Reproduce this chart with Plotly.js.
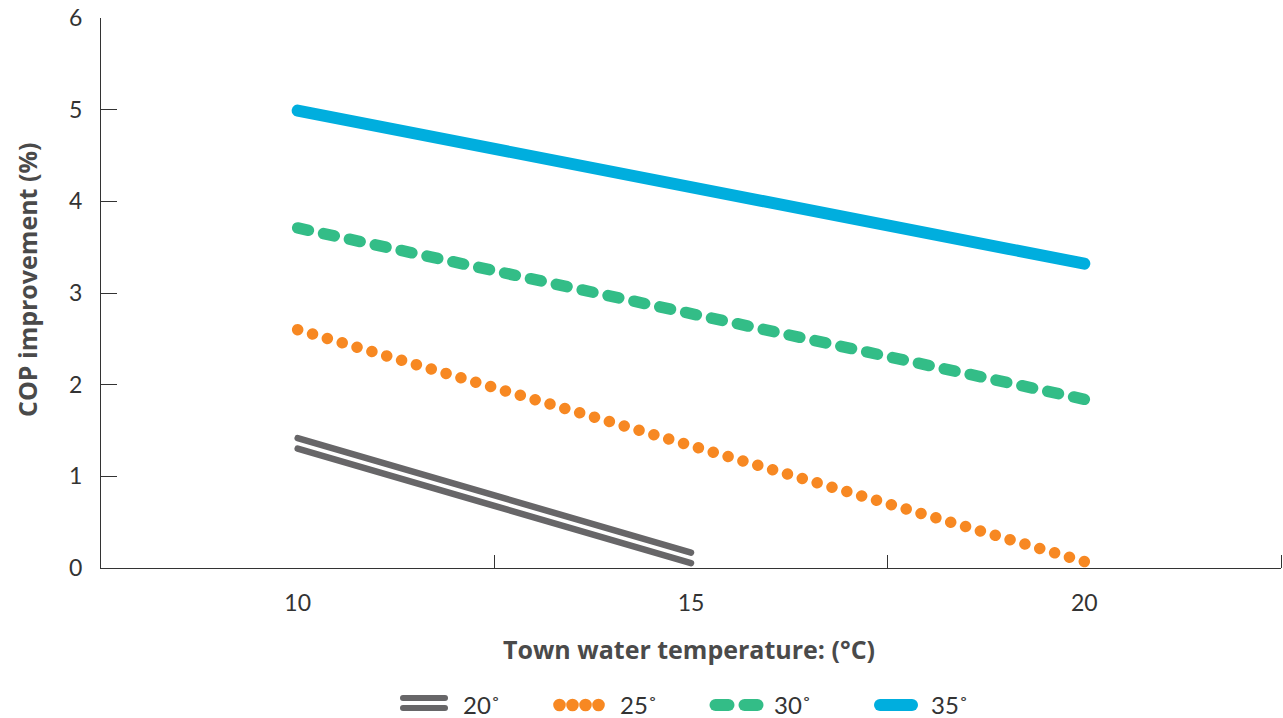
<!DOCTYPE html>
<html>
<head>
<meta charset="utf-8">
<script src="https://cdn.plot.ly/plotly-3.0.1.min.js"></script>
<style>
  html, body { margin: 0; padding: 0; background: #fff; }
  #chart { width: 1283px; height: 718px; }
  .scatterlayer .js-line, .shapelayer path { stroke-linecap: round !important; }
</style>
</head>
<body>
<div id="chart"></div>
<script>
// ---- data ----
const seriesNames = ['20˚', '25˚', '30˚', '35˚'];
const x20 = [10, 15];
const y20 = [1.36, 0.11];
const x25 = [10, 20];
const y25 = [2.60, 0.07];
const x30 = [10, 20];
const y30 = [3.71, 1.84];
const x35 = [10, 20];
const y35 = [4.99, 3.32];
const xTickVals = [10, 15, 20];
const xTickText = ['10', '15', '20'];
const xMinorTicks = [12.5, 17.5, 22.5];
const yTickVals = [0, 1, 2, 3, 4, 5, 6];

// ---- styles ----
const C_GRAY = '#676668', C_ORANGE = '#F78822', C_GREEN = '#33BD87', C_BLUE = '#00AEDE';
const FONT = 'Lato, "Open Sans", sans-serif';
const TFONT = '"Open Sans", Lato, sans-serif';
const TXT = '#333333';

const W = 1283, H = 718, ML = 101, MR = 2, MT = 18, MB = 150;
const PW = W - ML - MR, PH = H - MT - MB;
const px = v => (v - ML) / PW;          // pixel -> paper x
const py = v => (H - MB - v) / PH;      // pixel -> paper y

const traces = [
  {x: x20, y: y20, mode: 'lines', line: {color: C_GRAY, width: 6.5}, name: seriesNames[0], hoverinfo: 'skip'},
  {x: x20, y: y20, mode: 'lines', line: {color: C_GRAY, width: 6.5}, name: seriesNames[0], hoverinfo: 'skip'},
  {x: x25, y: y25, mode: 'lines', line: {color: C_ORANGE, width: 11.5, dash: '0.1px,15.4px'}, name: seriesNames[1]},
  {x: x30, y: y30, mode: 'lines', line: {color: C_GREEN, width: 11.5, dash: '11px,15.5px'}, name: seriesNames[2]},
  {x: x35, y: y35, mode: 'lines', line: {color: C_BLUE, width: 12}, name: seriesNames[3]}
];

// ---- manual legend ----
const LY = 705;
const shapes = [
  {type: 'line', xref: 'paper', yref: 'paper', x0: px(403), x1: px(445), y0: py(698), y1: py(698), line: {color: C_GRAY, width: 6}},
  {type: 'line', xref: 'paper', yref: 'paper', x0: px(403), x1: px(445), y0: py(708), y1: py(708), line: {color: C_GRAY, width: 6}},
  {type: 'line', xref: 'paper', yref: 'paper', x0: px(715.5), x1: px(728.5), y0: py(LY), y1: py(LY), line: {color: C_GREEN, width: 12}},
  {type: 'line', xref: 'paper', yref: 'paper', x0: px(744.5), x1: px(757.5), y0: py(LY), y1: py(LY), line: {color: C_GREEN, width: 12}},
  {type: 'line', xref: 'paper', yref: 'paper', x0: px(880), x1: px(912), y0: py(LY), y1: py(LY), line: {color: C_BLUE, width: 12}}
];
[559.5, 572.5, 585.5, 598.5].forEach(cx => {
  shapes.push({type: 'circle', xref: 'paper', yref: 'paper',
    x0: px(cx - 6.3), x1: px(cx + 6.3), y0: py(LY + 6.3), y1: py(LY - 6.3),
    fillcolor: C_ORANGE, line: {width: 0}});
});

const legendTextX = [461, 618, 772, 929];
const annotations = seriesNames.map((t, i) => ({
  text: t, xref: 'paper', yref: 'paper', x: px(legendTextX[i]), y: py(704),
  xanchor: 'left', yanchor: 'middle', showarrow: false,
  font: {family: FONT, size: 24, color: TXT}
}));
annotations.push({
  text: '<b>Town water temperature: (°C)</b>', xref: 'paper', yref: 'paper',
  x: px(689), y: py(649), xanchor: 'center', yanchor: 'middle', showarrow: false,
  font: {family: TFONT, size: 25, color: '#4a4a4a'}
});
annotations.push({
  text: '<b>COP improvement (%)</b>', xref: 'paper', yref: 'paper',
  x: px(27), y: py(280), xanchor: 'center', yanchor: 'middle', showarrow: false, textangle: -90,
  font: {family: TFONT, size: 25, color: '#4a4a4a'}
});

const layout = {
  width: W, height: H,
  margin: {l: ML, r: MR, t: MT, b: MB, pad: 0},
  paper_bgcolor: '#ffffff', plot_bgcolor: '#ffffff',
  showlegend: false,
  xaxis: {
    range: [7.5, 22.5], tickmode: 'array', tickvals: xTickVals, ticktext: xTickText,
    ticks: '', showline: true, linecolor: '#333', linewidth: 1,
    showgrid: false, zeroline: false, ticklabelstandoff: 14,
    tickfont: {family: FONT, size: 23, color: TXT},
    minor: {tickmode: 'array', tickvals: xMinorTicks, ticks: 'inside', ticklen: 13, tickcolor: '#333', tickwidth: 1, showgrid: false}
  },
  yaxis: {
    range: [0, 6], tickmode: 'array', tickvals: yTickVals,
    ticks: 'inside', ticklen: 16, tickcolor: '#333', tickwidth: 1,
    showline: true, linecolor: '#333', linewidth: 1,
    showgrid: false, zeroline: false, ticklabelstandoff: 13,
    tickfont: {family: FONT, size: 23, color: TXT}
  },
  shapes: shapes,
  annotations: annotations
};

Plotly.newPlot('chart', traces, layout, {displayModeBar: false, staticPlot: true}).then(gd => {
  const paths = gd.querySelectorAll('.scatterlayer .trace path.js-line');
  // double line for 20°: offset the two strands
  if (paths[0]) paths[0].setAttribute('transform', 'translate(0,-5.25)');
  if (paths[1]) paths[1].setAttribute('transform', 'translate(0,5.25)');
  // orange dots: fit pattern so a dot sits on each end
  if (paths[2]) {
    const L = paths[2].getTotalLength();
    const n = Math.round(L / 15.4);
    const p = (L - 0.05) / n;
    paths[2].style.strokeDasharray = '0.01px,' + (p - 0.01) + 'px';
  }
  // green dashes: fit pattern so a dash sits on each end
  if (paths[3]) {
    const L = paths[3].getTotalLength();
    const d = 11, g0 = 15.5;
    const n = Math.round((L + g0) / (d + g0));
    const g = (L - n * d) / (n - 1);
    paths[3].style.strokeDasharray = d + 'px,' + g + 'px';
  }
});
</script>
</body>
</html>
